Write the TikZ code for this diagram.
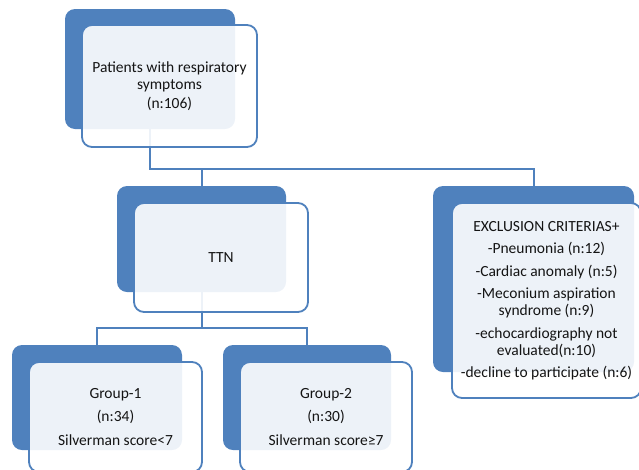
\documentclass[tikz,border=0pt]{standalone}
\usepackage{fontspec}
\setmainfont{Carlito}
\definecolor{accent}{RGB}{79,129,189}
\definecolor{txt}{RGB}{20,20,20}
\begin{document}
\begin{tikzpicture}[x=1pt,y=-1pt,
  backbox/.style={draw=none, fill=accent, rounded corners=10pt, inner sep=0pt},
  frontbox/.style={draw=accent, line width=1.8pt, fill=white, fill opacity=0.9, text opacity=1,
    rounded corners=10pt, align=center, text=txt, font=\fontsize{15.5}{17}\selectfont, inner sep=0pt},
  link/.style={draw=accent, line width=2pt}]
\useasboundingbox (0,0) rectangle (639,469);
% back boxes
\node[backbox, minimum width=170pt, minimum height=120pt] (topB) at (150,69) {};
\node[backbox, minimum width=169pt, minimum height=106pt] (ttnB) at (201.5,239) {};
\node[backbox, minimum width=170pt, minimum height=105pt] (g1B) at (97,397.5) {};
\node[backbox, minimum width=168pt, minimum height=105pt] (g2B) at (307,397.5) {};
\node[backbox, minimum width=201pt, minimum height=186pt] (exB) at (533.5,279) {};
% connectors
\coordinate (j1) at (150,169);
\coordinate (j2) at (201.5,328);
\draw[link] (topB.south) -- (j1) -| (exB.north);
\draw[link] (ttnB.north) -- (ttnB.north |- j1);
\draw[link] (ttnB.south) -- (j2);
\draw[link] (g1B.north) |- (j2) -| (g2B.north);
% front boxes
\node[frontbox, minimum width=175pt, minimum height=122pt] (topF) at (169.5,86)
  {Patients with respiratory\\symptoms\\[2pt](n:106)};
\node[frontbox, minimum width=174pt, minimum height=109pt] (ttnF) at (221,257.5) {TTN};
\node[frontbox, minimum width=173pt, minimum height=110pt] (g1F) at (115.5,417)
  {Group-1\\[6.5pt](n:34)\\[6.5pt]Silverman score<7};
\node[frontbox, minimum width=172pt, minimum height=110pt] (g2F) at (326,417)
  {Group-2\\[6.5pt](n:30)\\[6.5pt]Silverman score≥7};
\node[frontbox, minimum width=189pt, minimum height=195pt] (exF) at (546.5,300.5)
  {EXCLUSION CRITERIAS+\\[5.5pt]-Pneumonia (n:12)\\[5.5pt]-Cardiac anomaly (n:5)\\[5.5pt]-Meconium aspiration\\syndrome (n:9)\\[5.5pt]-echocardiography not\\evaluated(n:10)\\[5.5pt]-decline to participate (n:6)};
\end{tikzpicture}
\end{document}
